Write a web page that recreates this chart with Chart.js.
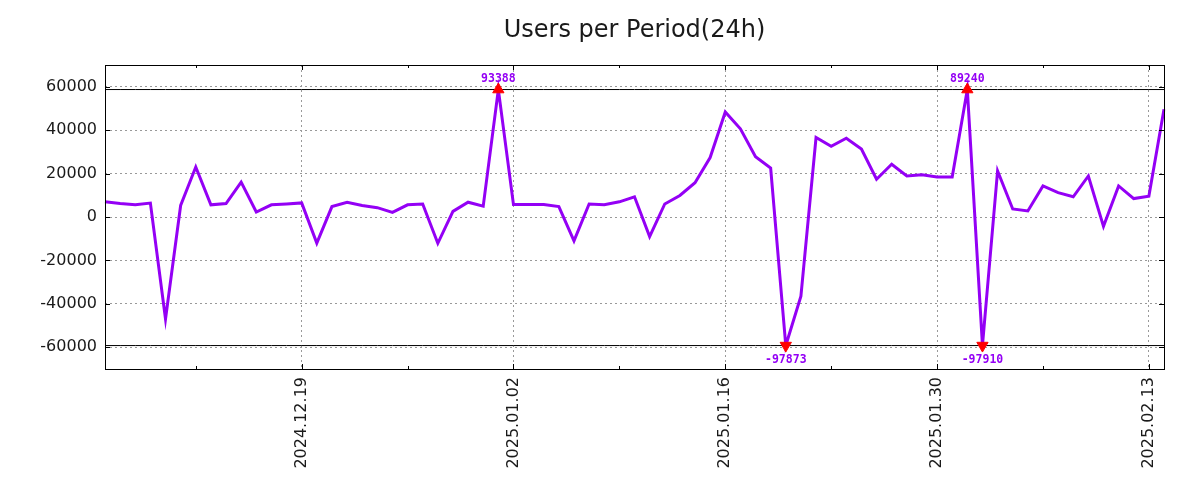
<!DOCTYPE html>
<html>
<head>
<meta charset="utf-8">
<script src="https://cdn.jsdelivr.net/npm/chart.js@4.4.1/dist/chart.umd.min.js"></script>
<style>
  html, body { margin: 0; padding: 0; background: #fff; }
  #wrap { width: 1200px; height: 500px; }
</style>
</head>
<body>
<div id="wrap"><canvas id="usersChart" width="1200" height="500"></canvas></div>
<script>
// one value per day, starting 2024.12.06
const startDate = new Date(2024, 11, 6);
const users = [
    7000, 6200, 5600, 6400, -47000, 5300, 23000, 5600, 6200, 16100,
    2300, 5600, 6000, 6500, -12000, 4800, 6800, 5300, 4300, 2100,
    5600, 6000, -12100, 2600, 6800, 5000, 93388, 5700, 5700, 5700,
    4800, -11000, 6000, 5600, 7000, 9300, -9000, 6000, 9900, 15800,
    27400, 48400, 40600, 27800, 22500, -97873, -36500, 36600, 32600, 36300,
    31300, 17400, 24300, 18900, 19500, 18400, 18400, 89240, -97910, 21200,
    3700, 2800, 14300, 11200, 9300, 18900, -4300, 14300, 8500, 9600,
    49600
];
const tickLabels = ['2024.12.19', '2025.01.02', '2025.01.16', '2025.01.30', '2025.02.13'];
const minorLabels = ['2024.12.12', '2024.12.26', '2025.01.09', '2025.01.23', '2025.02.06'];
const yTicks = [-60000, -40000, -20000, 0, 20000, 40000, 60000];
const clipHigh = 58700;
const clipLow = -59200;

const pad = n => String(n).padStart(2, '0');
const labels = users.map((_, i) => {
    const d = new Date(startDate);
    d.setDate(startDate.getDate() + i);
    return `${d.getFullYear()}.${pad(d.getMonth() + 1)}.${pad(d.getDate())}`;
});

const shown = users.map(v => Math.max(clipLow, Math.min(clipHigh, v)));
// markers only where the real value is outside the clip range
const overTop = users.map(v => v > clipHigh ? clipHigh : null);
const underBottom = users.map(v => v < clipLow ? clipLow : null);

const violet = '#9400f5';

// frame, inward tick marks and labels for clipped values
const framePlugin = {
    id: 'frame',
    afterDatasetsDraw(chart) {
        const { ctx, chartArea: a, scales: { x, y } } = chart;
        ctx.save();
        ctx.strokeStyle = '#000';
        ctx.lineWidth = 1;
        ctx.beginPath();
        tickLabels.forEach(l => {
            const px = Math.round(x.getPixelForValue(labels.indexOf(l))) + 0.5;
            ctx.moveTo(px, a.bottom); ctx.lineTo(px, a.bottom - 5);
            ctx.moveTo(px, a.top); ctx.lineTo(px, a.top + 5);
        });
        minorLabels.forEach(l => {
            const px = Math.round(x.getPixelForValue(labels.indexOf(l))) + 0.5;
            ctx.moveTo(px, a.bottom); ctx.lineTo(px, a.bottom - 3);
            ctx.moveTo(px, a.top); ctx.lineTo(px, a.top + 3);
        });
        yTicks.forEach(v => {
            const py = Math.round(y.getPixelForValue(v)) + 0.5;
            ctx.moveTo(a.left, py); ctx.lineTo(a.left + 5, py);
            ctx.moveTo(a.right, py); ctx.lineTo(a.right - 5, py);
        });
        ctx.stroke();
        ctx.strokeRect(Math.round(a.left) + 0.5, Math.round(a.top) + 0.5,
            Math.round(a.right - a.left), Math.round(a.bottom - a.top));

        ctx.fillStyle = violet;
        ctx.font = "bold 11.5px 'DejaVu Sans Mono'";
        ctx.textAlign = 'center';
        users.forEach((v, i) => {
            const px = x.getPixelForValue(i);
            if (v > clipHigh) {
                ctx.textBaseline = 'alphabetic';
                ctx.fillText(String(v), px, y.getPixelForValue(clipHigh) - 8);
            } else if (v < clipLow) {
                ctx.textBaseline = 'top';
                ctx.fillText(String(v), px, y.getPixelForValue(clipLow) + 9);
            }
        });
        ctx.restore();
    }
};

new Chart(document.getElementById('usersChart'), {
    type: 'line',
    data: {
        labels: labels,
        datasets: [
            {
                data: overTop,
                showLine: false,
                pointStyle: 'triangle',
                pointRadius: 6.5,
                backgroundColor: '#ff0000',
                borderColor: '#ff0000',
                borderWidth: 1
            },
            {
                data: underBottom,
                showLine: false,
                pointStyle: 'triangle',
                rotation: 180,
                pointRadius: 6.5,
                backgroundColor: '#ff0000',
                borderColor: '#ff0000',
                borderWidth: 1
            },
            {
                data: shown,
                borderColor: violet,
                borderWidth: 3,
                pointRadius: 0,
                tension: 0,
                fill: false
            },
            {
                data: labels.map(() => clipHigh),
                borderColor: '#000',
                borderWidth: 1,
                pointRadius: 0
            },
            {
                data: labels.map(() => clipLow),
                borderColor: '#000',
                borderWidth: 1,
                pointRadius: 0
            }
        ]
    },
    options: {
        responsive: false,
        animation: false,
        layout: { padding: { left: 0, right: 36, top: 0, bottom: 0 } },
        plugins: {
            legend: { display: false },
            tooltip: { enabled: false },
            title: {
                display: true,
                text: 'Users per Period(24h)',
                fullSize: false,
                color: '#1a1a1a',
                font: { family: "'DejaVu Sans'", size: 24, weight: 'normal' },
                padding: { top: 16, bottom: 20.2 }
            }
        },
        scales: {
            x: {
                type: 'category',
                offset: false,
                afterFit: s => { s.height = 131; },
                border: { display: false, dash: [2, 3] },
                grid: {
                    drawTicks: false,
                    color: c => tickLabels.includes(labels[c.index]) ? '#999' : 'rgba(0,0,0,0)',
                    lineWidth: 1
                },
                ticks: {
                    autoSkip: false,
                    minRotation: 90,
                    maxRotation: 90,
                    padding: 8,
                    color: '#1a1a1a',
                    font: { family: "'DejaVu Sans'", size: 16 },
                    callback: function (value) {
                        const l = labels[value];
                        return tickLabels.includes(l) ? l : '';
                    }
                }
            },
            y: {
                min: -70000,
                max: 70000,
                afterFit: s => { s.width = 105; },
                afterBuildTicks: s => { s.ticks = yTicks.map(v => ({ value: v })); },
                border: { display: false, dash: [2, 3] },
                grid: { drawTicks: false, color: '#999', lineWidth: 1 },
                ticks: {
                    padding: 8,
                    color: '#1a1a1a',
                    font: { family: "'DejaVu Sans'", size: 16 },
                    callback: v => String(v)
                }
            }
        }
    },
    plugins: [framePlugin]
});
</script>
</body>
</html>
